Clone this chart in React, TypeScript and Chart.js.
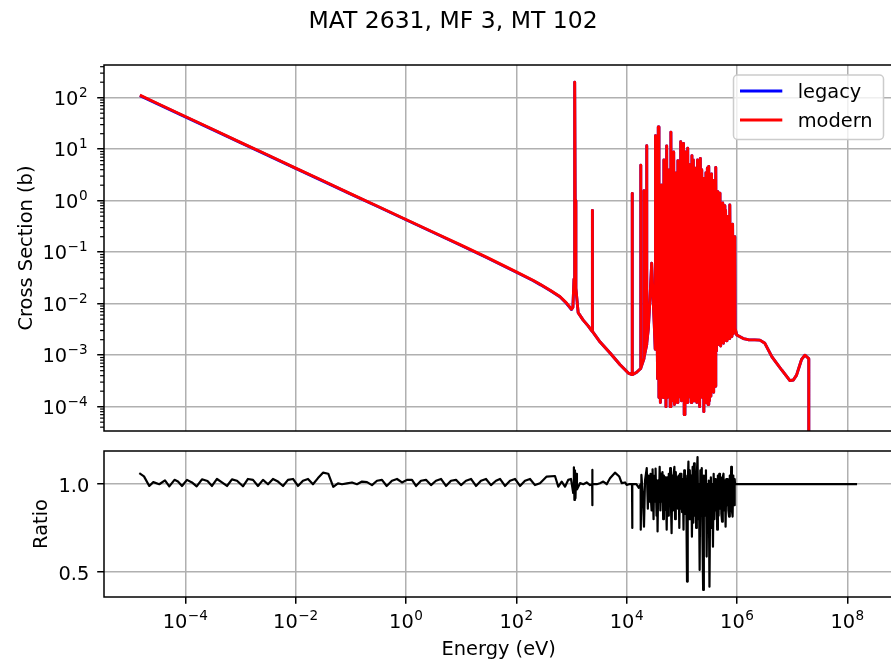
import { useEffect, useRef } from "react";
import { Chart, registerables } from "chart.js";

Chart.register(...registerables);

const FONT = '"DejaVu Sans", "Liberation Sans", sans-serif';
const TICK_PX = 19.4;
const SUP_PX = 13.6;
const SUP_RISE = 8;

// ---------------------------------------------------------------------------
// Capture cross section, MAT 2631 (Fe-56), energy in eV, cross section in barns
// ---------------------------------------------------------------------------

// 1/v region below the first resonance
const modernThermal: [number, number][] = [
  [1.5e-5, 112], [3e-5, 79], [1e-4, 43.2], [3e-4, 24.9], [1e-3, 13.6],
  [3e-3, 7.9], [1e-2, 4.3], [3e-2, 2.49], [0.1, 1.36], [0.3, 0.79],
  [1, 0.432], [3, 0.25], [10, 0.137], [30, 0.0785], [100, 0.0415],
  [200, 0.0285], [275, 0.0235], [410, 0.0183], [615, 0.0138], [800, 0.0105],
  [1000, 0.0078],
];

const legacyThermal: [number, number][] = [
  [1.5e-5, 110], [3e-5, 77.8], [1e-4, 42.5], [3e-4, 24.5], [1e-3, 13.4],
  [3e-3, 7.78], [1e-2, 4.24], [3e-2, 2.45], [0.1, 1.34], [0.3, 0.778],
  [1, 0.426], [3, 0.246], [10, 0.135], [30, 0.0773], [100, 0.0409],
  [200, 0.0281], [275, 0.0232], [410, 0.018], [615, 0.0136], [800, 0.0103],
  [1000, 0.0077],
];

// isolated resonances below the dense band (both evaluations)
const resolvedResonances: [number, number][] = [
  [1060, 0.0085], [1110, 0.03], [1135, 1.2], [1150, 200], [1165, 1.0],
  [1200, 0.02], [1320, 0.0067], [1630, 0.0048], [2000, 0.0037], [2370, 0.0029],
  [2385, 0.65], [2400, 0.0029], [3300, 0.0018], [5000, 0.0011], [7600, 0.00065],
  [1.07e4, 0.00045], [1.255e4, 0.00042], [1.26e4, 1.39], [1.265e4, 0.00042],
  [1.5e4, 0.00046], [1.795e4, 0.00055], [1.8e4, 4.9], [1.805e4, 0.00056],
  [2.055e4, 0.00085], [2.06e4, 1.56], [2.065e4, 0.0009], [2.305e4, 0.0016],
  [2.31e4, 11.7], [2.315e4, 0.0017], [2.47e4, 0.0033], [2.65e4, 0.013],
  [2.84e4, 0.061], [3.0e4, 0.014], [3.16e4, 0.004], [3.29e4, 0.0013],
  [3.33e4, 18.2],
];

// dense resonance band, 36 keV - 0.9 MeV
const bandEnergies: number[] = [
  3.630e4, 3.738e4, 3.849e4, 3.963e4, 4.081e4, 4.202e4, 4.327e4, 4.455e4, 4.588e4, 4.724e4,
  4.864e4, 5.009e4, 5.157e4, 5.311e4, 5.468e4, 5.631e4, 5.798e4, 5.970e4, 6.147e4, 6.330e4,
  6.518e4, 6.712e4, 6.911e4, 7.116e4, 7.328e4, 7.545e4, 7.769e4, 8.000e4, 8.238e4, 8.482e4,
  8.734e4, 8.994e4, 9.261e4, 9.536e4, 9.819e4, 1.011e5, 1.041e5, 1.072e5, 1.104e5, 1.137e5,
  1.170e5, 1.205e5, 1.241e5, 1.278e5, 1.316e5, 1.355e5, 1.395e5, 1.437e5, 1.479e5, 1.523e5,
  1.568e5, 1.615e5, 1.663e5, 1.712e5, 1.763e5, 1.816e5, 1.869e5, 1.925e5, 1.982e5, 2.041e5,
  2.102e5, 2.164e5, 2.228e5, 2.295e5, 2.363e5, 2.433e5, 2.505e5, 2.579e5, 2.656e5, 2.735e5,
  2.816e5, 2.900e5, 2.986e5, 3.075e5, 3.166e5, 3.260e5, 3.357e5, 3.456e5, 3.559e5, 3.665e5,
  3.774e5, 3.886e5, 4.001e5, 4.120e5, 4.242e5, 4.368e5, 4.498e5, 4.632e5, 4.769e5, 4.911e5,
  5.057e5, 5.207e5, 5.362e5, 5.521e5, 5.685e5, 5.854e5, 6.027e5, 6.206e5, 6.391e5, 6.581e5,
  6.776e5, 6.977e5, 7.184e5, 7.398e5, 7.618e5, 7.844e5, 8.077e5, 8.317e5, 8.564e5, 8.818e5,
  9.080e5,
];

const bandCrossSection: number[] = [
  3.5e-4, 27, 1.5e-4, 1.5, 1.2e-4, 2.0, 2.5e-4, 0.8, 1.5e-4, 6.2,
  2.0e-4, 3.0, 1.0e-4, 11.6, 1.5e-4, 1.2, 2e-4, 4, 1.0e-4, 21.5,
  3e-4, 5, 1.3e-4, 8.8, 1.1e-4, 1.5, 2e-4, 3.5, 1.2e-4, 6,
  1.5e-4, 2.5, 1.8e-4, 14, 1.3e-4, 5, 2.5e-4, 13, 7e-5, 8.9,
  1.5e-4, 3, 1.2e-4, 10.4, 1.5e-4, 5, 2.5e-4, 2.5, 1.2e-4, 7.5,
  2.3e-4, 6.2, 1.3e-4, 4.3, 1.6e-4, 3, 1.2e-4, 6.2, 2.2e-4, 3.5,
  1.0e-4, 6.6, 2.0e-4, 4, 1.5e-4, 2.7, 8e-5, 1.5, 1.2e-4, 3.5,
  1.4e-4, 4.3, 1.1e-4, 4.6, 1.3e-4, 2, 1.6e-4, 3.3, 2.2e-4, 2.5,
  1.9e-4, 1.2, 2.5e-4, 4.4, 1.2e-3, 1.5, 1.6e-3, 1.3, 1.8e-3, 1.4,
  1.5e-3, 0.6, 2.0e-3, 0.9, 1.7e-3, 0.8, 2.2e-3, 0.65, 1.9e-3, 0.4,
  2.4e-3, 0.5, 2.1e-3, 0.83, 2.5e-3, 0.3, 2.3e-3, 0.35, 2.6e-3, 0.2,
  2.8e-3,
];

// smooth fast range up to the 20 MeV end of the evaluation
const fastRange: [number, number][] = [
  [9.14e5, 0.15], [9.25e5, 0.0033],
  [9.9e5, 0.00246], [1.3e6, 0.0021], [1.6e6, 0.002], [2.1e6, 0.00198],
  [2.6e6, 0.00196], [3.2e6, 0.0017], [4.3e6, 0.00093], [6.5e6, 0.00051],
  [9.1e6, 0.00032], [1.05e7, 0.00033], [1.2e7, 0.00041], [1.48e7, 0.00083],
  [1.7e7, 0.001], [1.9e7, 0.0009], [2.0e7, 0.00085], [2.0e7, 1e-6],
];

// ---------------------------------------------------------------------------
// Ratio of the two evaluations
// ---------------------------------------------------------------------------
const ratioThermal: [number, number][] = [
  [1.466e-5, 1.063], [1.782e-5, 1.045], [2.223e-5, 0.99], [2.63e-5, 1.012],
  [3.376e-5, 1.0], [4.28e-5, 1.022], [5.128e-5, 0.988], [6.368e-5, 1.025],
  [7.367e-5, 1.015], [8.71e-5, 0.99], [1.072e-4, 1.025], [1.321e-4, 1.01],
  [1.607e-4, 0.988], [2.005e-4, 1.028], [2.523e-4, 1.018], [3.047e-4, 0.99],
  [3.75e-4, 1.03], [4.62e-4, 1.01], [5.69e-4, 0.99], [7.01e-4, 1.028],
  [8.65e-4, 1.02], [1.109e-3, 0.988], [1.368e-3, 1.03], [1.687e-3, 1.025],
  [2.076e-3, 0.99], [2.559e-3, 1.025], [3.155e-3, 1.0], [3.882e-3, 1.03],
  [4.786e-3, 1.015], [5.9e-3, 0.99], [7.26e-3, 1.025], [8.95e-3, 1.03],
  [1.102e-2, 0.99], [1.358e-2, 1.02], [1.675e-2, 1.03], [2.061e-2, 1.0],
  [2.541e-2, 1.035], [3.13e-2, 1.066], [3.9e-2, 1.06], [4.81e-2, 0.985],
  [5.85e-2, 1.005], [6.92e-2, 1.0], [8.52e-2, 1.005], [0.105, 1.01],
  [0.1294, 1.0], [0.1594, 1.015], [0.1965, 1.012], [0.242, 0.995],
  [0.298, 1.02], [0.367, 1.025], [0.447, 0.99], [0.557, 1.02],
  [0.687, 1.03], [0.846, 1.01], [1.043, 1.025], [1.285, 1.025],
  [1.518, 0.99], [1.87, 1.02], [2.304, 1.025], [2.84, 0.995],
  [3.498, 1.02], [4.31, 1.03], [5.31, 0.99], [6.54, 1.02],
  [8.06, 1.025], [9.93, 0.995], [12.24, 1.02], [15.08, 1.03],
  [18.57, 0.99], [22.88, 1.02], [28.2, 1.03], [34.7, 0.995],
  [42.8, 1.02], [50.6, 1.03], [62.3, 0.99], [76.8, 1.02],
  [94.6, 1.03], [116.5, 0.99], [143.6, 1.02], [177, 1.03],
  [218, 0.995], [268.5, 1.006],
];

const ratioResolved: [number, number][] = [
  [355, 1.044], [502, 1.047], [576, 0.986], [664, 1.015], [762, 0.986],
  [875, 1.025], [979, 1.03], [1075, 0.95], [1105, 1.097], [1130, 0.91],
  [1155, 1.08], [1180, 0.92], [1215, 1.06], [1255, 0.97], [1426, 1.006],
  [1637, 1.0], [1884, 1.01], [2163, 0.995], [2370, 1.0], [2380, 1.082],
  [2390, 0.88], [2400, 1.0], [2864, 1.0], [3282, 1.006], [3770, 1.015],
  [4345, 1.0], [4988, 1.034], [6140, 1.066], [7350, 1.044], [8128, 1.006],
  [9333, 1.01], [1.0e4, 0.996], [1.1e4, 1.0], [1.25e4, 1.0], [1.26e4, 0.75],
  [1.27e4, 1.0], [1.5e4, 1.0], [1.65e4, 0.98], [1.79e4, 1.0], [1.8e4, 0.74],
  [1.85e4, 1.053], [1.95e4, 0.95], [2.06e4, 0.757], [2.15e4, 1.02],
  [2.31e4, 1.092], [2.42e4, 0.86], [2.5e4, 1.05], [2.6e4, 0.9],
  [2.655e4, 1.04], [2.71e4, 1.06], [2.77e4, 0.9], [2.83e4, 0.85],
  [2.89e4, 1.03], [2.95e4, 1.085], [3.01e4, 0.92], [3.07e4, 0.8],
  [3.13e4, 1.0], [3.2e4, 1.05], [3.27e4, 0.9], [3.34e4, 1.09],
  [3.41e4, 0.95], [3.48e4, 0.82], [3.55e4, 1.02],
];

const bandRatio: number[] = [
  0.73, 1.02, 0.9, 1.1, 0.85, 1.06, 0.9, 1.07, 0.8, 1.05,
  0.853, 1.04, 0.95, 0.74, 1.04, 0.82, 1.06, 0.88, 1.092, 0.9,
  0.72, 1.05, 0.85, 1.06, 1.1, 0.8, 1.07, 0.88, 1.04, 0.86,
  1.05, 0.75, 1.06, 0.86, 1.06, 0.84, 1.03, 0.74, 1.08, 0.83,
  1.05, 0.9, 0.443, 1.0, 1.13, 0.8, 1.08, 0.85, 1.05, 0.7,
  1.1, 0.78, 1.12, 0.82, 1.05, 0.75, 1.06, 1.155, 0.8, 1.0,
  0.51, 1.08, 0.82, 1.092, 0.7, 0.395, 1.05, 0.82, 1.05, 1.08,
  0.586, 1.0, 0.8, 1.02, 0.414, 0.9, 1.04, 0.75, 1.0, 0.643,
  1.06, 0.8, 1.03, 0.85, 1.02, 0.74, 1.05, 0.82, 1.06, 0.86,
  1.04, 0.83, 0.786, 1.04, 1.06, 0.85, 1.02, 0.757, 1.03, 0.88,
  1.03, 0.85, 0.815, 1.05, 0.87, 1.1, 0.85, 0.815, 1.05, 0.88,
  1.03,
];

const ratioFast: [number, number][] = [
  [9.2e5, 1.0], [1.0e6, 1.0], [1.5e8, 1.0],
];

// axis ticks
const energyTicks = [1e-4, 1e-2, 1, 1e2, 1e4, 1e6, 1e8];
const energyTickExponents = ["\u22124", "\u22122", "0", "2", "4", "6", "8"];
const xsTicks = [1e-4, 1e-3, 1e-2, 1e-1, 1, 10, 100];
const xsTickExponents = ["\u22124", "\u22123", "\u22122", "\u22121", "0", "1", "2"];
const ratioTicks = [0.5, 1.0];
const ratioTickLabels = ["0.5", "1.0"];

// axis limits
const ENERGY_MIN = 3.36e-6;
const ENERGY_MAX = 6.86e8;
const XS_MIN = 3.37e-5;
const XS_MAX = 431.5;
const RATIO_MIN = 0.355;
const RATIO_MAX = 1.19;

const toPoints = (pairs: [number, number][]) => pairs.map(([x, y]) => ({ x, y }));
const zipPairs = (xs: number[], ys: number[]): [number, number][] => xs.map((x, i) => [x, ys[i]]);

function drawPowerOfTen(
  ctx: CanvasRenderingContext2D,
  exponent: string,
  x: number,
  baseline: number,
  align: "center" | "right"
) {
  ctx.font = `${TICK_PX}px ${FONT}`;
  const wBase = ctx.measureText("10").width;
  ctx.font = `${SUP_PX}px ${FONT}`;
  const wExp = ctx.measureText(exponent).width;
  const gap = 0.5;
  const total = wBase + gap + wExp;
  const left = align === "center" ? x - total / 2 : x - total;
  ctx.textAlign = "left";
  ctx.textBaseline = "alphabetic";
  ctx.fillStyle = "#000";
  ctx.font = `${TICK_PX}px ${FONT}`;
  ctx.fillText("10", left, baseline);
  ctx.font = `${SUP_PX}px ${FONT}`;
  ctx.fillText(exponent, left + wBase + gap, baseline - SUP_RISE);
}

function drawRotatedLabel(ctx: CanvasRenderingContext2D, text: string, x: number, y: number) {
  ctx.save();
  ctx.translate(x, y);
  ctx.rotate(-Math.PI / 2);
  ctx.font = `${TICK_PX}px ${FONT}`;
  ctx.fillStyle = "#000";
  ctx.textAlign = "center";
  ctx.textBaseline = "alphabetic";
  ctx.fillText(text, 0, 0);
  ctx.restore();
}

function drawFrame(chart: Chart) {
  const { ctx, chartArea } = chart;
  ctx.save();
  ctx.strokeStyle = "#000";
  ctx.lineWidth = 1.5;
  ctx.strokeRect(chartArea.left, chartArea.top, chartArea.right - chartArea.left, chartArea.bottom - chartArea.top);
  ctx.restore();
}

const fixedTicks = (values: number[]) => (scale: any) => {
  scale.ticks = values.map((value) => ({ value }));
};

const gridStyle = {
  color: "#b0b0b0",
  lineWidth: 1.5,
  tickColor: "#000",
  tickWidth: 1.5,
  tickLength: 6.8,
};

// decorations for the cross-section panel
const crossSectionDecor = {
  id: "crossSectionDecor",
  afterDatasetsDraw(chart: Chart) {
    drawFrame(chart);
  },
  afterDraw(chart: Chart) {
    const { ctx, chartArea } = chart;
    const y = chart.scales.y;
    ctx.save();

    // title
    ctx.font = `23.5px ${FONT}`;
    ctx.fillStyle = "#000";
    ctx.textAlign = "center";
    ctx.textBaseline = "alphabetic";
    ctx.fillText("MAT 2631, MF 3, MT 102", 453, 28);

    // minor ticks on the log axis
    ctx.strokeStyle = "#000";
    ctx.lineWidth = 1.2;
    for (let n = -5; n <= 2; n++) {
      for (let k = 2; k <= 9; k++) {
        const v = k * Math.pow(10, n);
        if (v <= XS_MIN || v >= XS_MAX) continue;
        const py = y.getPixelForValue(v);
        ctx.beginPath();
        ctx.moveTo(chartArea.left - 3.9, py);
        ctx.lineTo(chartArea.left, py);
        ctx.stroke();
      }
    }

    // tick labels
    xsTicks.forEach((v, i) => {
      drawPowerOfTen(ctx, xsTickExponents[i], 87.6, y.getPixelForValue(v) + 7, "right");
    });

    drawRotatedLabel(ctx, "Cross Section (b)", 31.7, (chartArea.top + chartArea.bottom) / 2);

    // legend
    const bx = 733.5, by = 75, bw = 150, bh = 64.5;
    ctx.beginPath();
    ctx.roundRect(bx, by, bw, bh, 4);
    ctx.fillStyle = "rgba(255,255,255,0.8)";
    ctx.fill();
    ctx.strokeStyle = "#cccccc";
    ctx.lineWidth = 1.5;
    ctx.stroke();
    chart.data.datasets.forEach((ds: any, i: number) => {
      const ly = 91 + i * 29;
      ctx.beginPath();
      ctx.moveTo(740, ly);
      ctx.lineTo(782.3, ly);
      ctx.strokeStyle = ds.borderColor;
      ctx.lineWidth = 2.9;
      ctx.stroke();
      ctx.font = `${TICK_PX}px ${FONT}`;
      ctx.fillStyle = "#000";
      ctx.textAlign = "left";
      ctx.textBaseline = "alphabetic";
      ctx.fillText(ds.label, 797.7, ly + 6.8);
    });
    ctx.restore();
  },
};

// decorations for the ratio panel
const ratioDecor = {
  id: "ratioDecor",
  afterDatasetsDraw(chart: Chart) {
    drawFrame(chart);
  },
  afterDraw(chart: Chart) {
    const { ctx, chartArea } = chart;
    const x = chart.scales.x;
    const y = chart.scales.y;
    ctx.save();
    energyTicks.forEach((v, i) => {
      drawPowerOfTen(ctx, energyTickExponents[i], x.getPixelForValue(v), 187, "center");
    });
    ctx.font = `${TICK_PX}px ${FONT}`;
    ctx.fillStyle = "#000";
    ctx.textAlign = "right";
    ctx.textBaseline = "alphabetic";
    ratioTicks.forEach((v, i) => {
      ctx.fillText(ratioTickLabels[i], 89.3, y.getPixelForValue(v) + 8);
    });
    ctx.textAlign = "center";
    ctx.fillText("Energy (eV)", (chartArea.left + chartArea.right) / 2, 214);
    drawRotatedLabel(ctx, "Ratio", 46.7, (chartArea.top + chartArea.bottom) / 2);
    ctx.restore();
  },
};

const lineStyle = {
  pointRadius: 0,
  borderJoinStyle: "round" as const,
  tension: 0,
  clip: 0,
};

function crossSectionConfig(): any {
  const band = zipPairs(bandEnergies, bandCrossSection);
  return {
    type: "line",
    data: {
      datasets: [
        {
          label: "legacy",
          data: toPoints([...legacyThermal, ...resolvedResonances, ...band, ...fastRange]),
          borderColor: "#0000ff",
          borderWidth: 2.9,
          order: 1,
          ...lineStyle,
        },
        {
          label: "modern",
          data: toPoints([...modernThermal, ...resolvedResonances, ...band, ...fastRange]),
          borderColor: "#ff0000",
          borderWidth: 2.9,
          order: 0,
          ...lineStyle,
        },
      ],
    },
    options: {
      animation: false,
      responsive: false,
      devicePixelRatio: 1,
      events: [],
      layout: { autoPadding: false, padding: { left: 0, top: 65, right: 12.5, bottom: 10 } },
      plugins: { legend: { display: false }, tooltip: { enabled: false }, title: { display: false } },
      scales: {
        x: {
          type: "logarithmic",
          min: ENERGY_MIN,
          max: ENERGY_MAX,
          afterBuildTicks: fixedTicks(energyTicks),
          afterFit: (s: any) => { s.height = 0; },
          ticks: { display: false, autoSkip: false },
          grid: { ...gridStyle, drawTicks: false },
          border: { display: false },
        },
        y: {
          type: "logarithmic",
          min: XS_MIN,
          max: XS_MAX,
          afterBuildTicks: fixedTicks(xsTicks),
          afterFit: (s: any) => { s.width = 104; },
          ticks: { display: false, autoSkip: false },
          grid: { ...gridStyle, drawTicks: true },
          border: { display: false },
        },
      },
    },
    plugins: [crossSectionDecor],
  };
}

function ratioConfig(): any {
  const band = zipPairs(bandEnergies, bandRatio);
  return {
    type: "line",
    data: {
      datasets: [
        {
          label: "ratio",
          data: toPoints([...ratioThermal, ...ratioResolved, ...band, ...ratioFast]),
          borderColor: "#000000",
          borderWidth: 2.2,
          ...lineStyle,
        },
      ],
    },
    options: {
      animation: false,
      responsive: false,
      devicePixelRatio: 1,
      events: [],
      layout: { autoPadding: false, padding: { left: 0, top: 10, right: 12.5, bottom: 0 } },
      plugins: { legend: { display: false }, tooltip: { enabled: false }, title: { display: false } },
      scales: {
        x: {
          type: "logarithmic",
          min: ENERGY_MIN,
          max: ENERGY_MAX,
          afterBuildTicks: fixedTicks(energyTicks),
          afterFit: (s: any) => { s.height = 65; },
          ticks: { display: false, autoSkip: false },
          grid: { ...gridStyle, drawTicks: true },
          border: { display: false },
        },
        y: {
          type: "linear",
          min: RATIO_MIN,
          max: RATIO_MAX,
          afterBuildTicks: fixedTicks(ratioTicks),
          afterFit: (s: any) => { s.width = 104; },
          ticks: { display: false, autoSkip: false },
          grid: { ...gridStyle, drawTicks: true },
          border: { display: false },
        },
      },
    },
    plugins: [ratioDecor],
  };
}

export default function App() {
  const topRef = useRef<HTMLCanvasElement>(null);
  const bottomRef = useRef<HTMLCanvasElement>(null);

  useEffect(() => {
    const top = new Chart(topRef.current as HTMLCanvasElement, crossSectionConfig());
    const bottom = new Chart(bottomRef.current as HTMLCanvasElement, ratioConfig());
    return () => {
      top.destroy();
      bottom.destroy();
    };
  }, []);

  return (
    <div
      style={{
        position: "fixed",
        left: 0,
        top: 0,
        width: 891,
        height: 662,
        overflow: "hidden",
        background: "#ffffff",
      }}
    >
      <canvas
        ref={topRef}
        width={906}
        height={441}
        style={{ position: "absolute", left: 0, top: 0, width: 906, height: 441 }}
      />
      <canvas
        ref={bottomRef}
        width={906}
        height={221}
        style={{ position: "absolute", left: 0, top: 441, width: 906, height: 221 }}
      />
    </div>
  );
}
